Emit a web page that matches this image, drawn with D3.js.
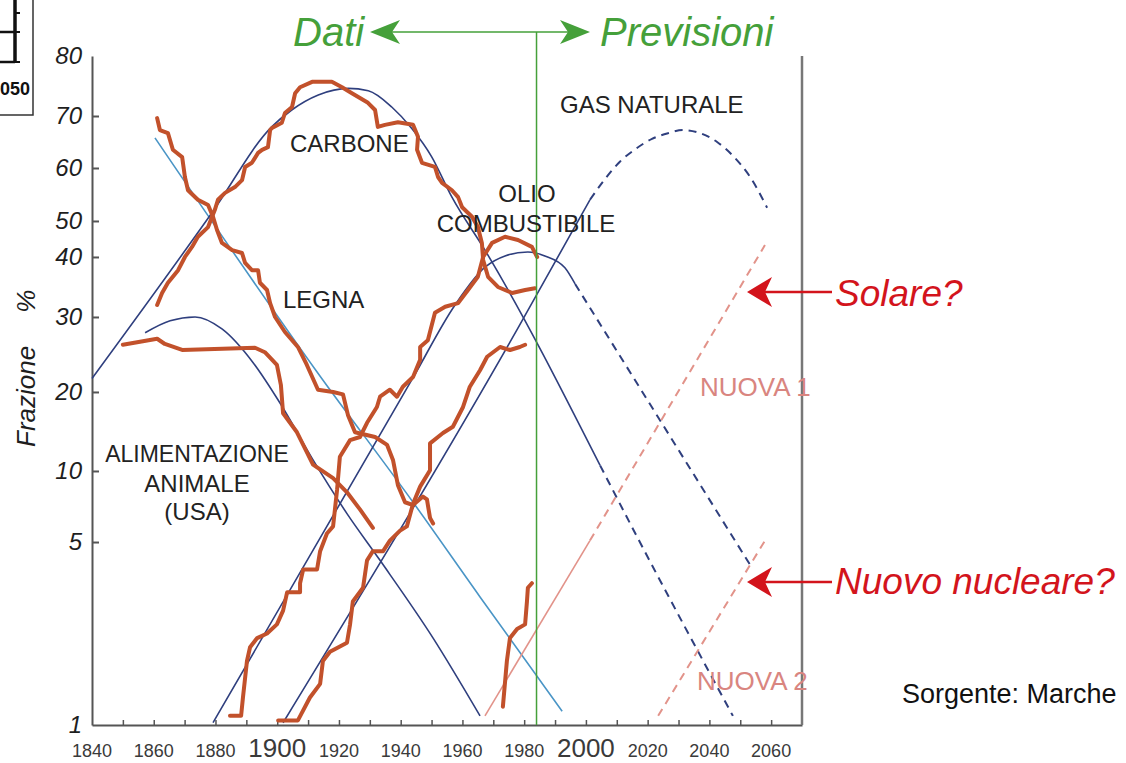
<!DOCTYPE html>
<html>
<head>
<meta charset="utf-8">
<script src="https://cdn.jsdelivr.net/npm/d3@7"></script>
<style>
  html, body { margin: 0; padding: 0; background: #ffffff; }
  svg { display: block; }
  text { font-family: "Liberation Sans", Arial, Helvetica, sans-serif; }
</style>
</head>
<body>
<svg id="chart" width="1126" height="763"></svg>
<script>
// ---------------------------------------------------------------
// Axis values
// ---------------------------------------------------------------
const yTickValues = [1, 5, 10, 20, 30, 40, 50, 60, 70, 80];
const xTickYears = [1850, 1860, 1870, 1880, 1890, 1900, 1910, 1920, 1930, 1940, 1950,
                    1960, 1970, 1980, 1990, 2000, 2010, 2020, 2030, 2040, 2050, 2060];
const xLabelYears = [1840, 1860, 1880, 1900, 1920, 1940, 1960, 1980, 2000, 2020, 2040, 2060];
const xMajorLabelYears = [1900, 2000];
const presentYear = 1984;

// ---------------------------------------------------------------
// Logistic substitution fits [year, share %]
// ---------------------------------------------------------------
const fitAnimalFeed = [[1857.2, 27.9], [1865.3, 29.5], [1873.4, 30.0], [1882.1, 28.4], [1892.2, 23.9],
                       [1900.9, 18.6], [1911.6, 11.4], [1922.6, 7.0], [1933.3, 4.6], [1950.5, 2.9], [1965.7, 1.2]];
const fitWood = [[1860.4, 65.8], [1913.2, 22.5], [1944.0, 7.8], [1965.7, 3.8], [1992.3, 1.3]];
const fitCoal = [[1840, 21.8], [1878.8, 51.5], [1898.2, 67.9], [1904.7, 71.0], [1913.3, 73.5], [1923.0, 74.6],
                 [1929.5, 74.2], [1937.1, 71.5], [1943.6, 67.6], [1950.0, 62.2], [1956.6, 54.5], [1967.3, 41.9],
                 [2004.6, 10.7]];
const fitCoalForecast = [[2004.6, 10.7], [2016.5, 5.4], [2047.6, 1.2]];
const fitOil = [[1879.2, 1.05], [1944.0, 21.9], [1957.6, 32.0], [1967.3, 38.3], [1973.8, 40.3], [1981.2, 41.4],
                [1986.7, 40.3], [1993.2, 38.2], [1996.5, 35.5]];
const fitOilForecast = [[1996.5, 35.5], [2053.2, 4.5]];
const fitGas = [[1901.9, 1.05], [1977.7, 28.3], [2001.3, 54.0]];
const fitGasForecast = [[2001.3, 54.0], [2005.9, 57.7], [2011.0, 61.2], [2016.2, 63.7], [2021.4, 65.6],
                        [2026.6, 66.7], [2031.4, 67.3], [2037.0, 66.7], [2042.5, 65.0], [2048.0, 62.1],
                        [2053.2, 58.3], [2058.7, 52.5]];
const fitNew1 = [[1967.3, 1.2], [2001.3, 5.1]];
const fitNew1Forecast = [[2001.3, 5.1], [2058.0, 43.3]];
const fitNew2Forecast = [[2023.4, 1.2], [2058.7, 5.35]];

// ---------------------------------------------------------------
// Historical market shares [year, share %]
// ---------------------------------------------------------------
const dataAnimalFeed = [[1850.0, 26.3], [1861.1, 27.1], [1863.6, 26.4], [1869.2, 25.6], [1892.8, 25.9],
                        [1896.0, 25.3], [1899.9, 23.6], [1901.2, 20.9], [1901.9, 17.3], [1906.4, 14.9],
                        [1911.6, 10.8], [1918.1, 9.5], [1922.6, 8.5], [1926.8, 7.3], [1931.0, 6.0]];
const dataWood = [[1861.1, 69.6], [1862.0, 67.3], [1864.6, 66.7], [1866.2, 63.5], [1869.2, 62.1], [1870.1, 58.3],
                  [1871.1, 55.8], [1874.3, 54.0], [1877.6, 53.0], [1879.2, 50.8], [1880.5, 47.5], [1882.1, 43.9],
                  [1885.4, 41.9], [1888.6, 41.1], [1889.6, 39.0], [1891.8, 37.8], [1893.8, 37.8], [1894.4, 35.7],
                  [1896.7, 34.5], [1897.7, 32.3], [1899.3, 30.0], [1902.5, 28.0], [1906.7, 26.0], [1909.6, 23.6],
                  [1913.2, 20.3], [1918.1, 20.0], [1921.3, 19.7], [1922.9, 17.1], [1925.2, 14.9], [1931.7, 14.3],
                  [1935.6, 13.3], [1937.5, 11.4], [1939.1, 9.0], [1941.4, 7.8], [1944.0, 7.6], [1947.2, 8.2],
                  [1948.5, 8.0], [1949.5, 6.7], [1950.5, 6.3]];
const dataCoal = [[1861.1, 32.0], [1862.7, 34.0], [1864.6, 35.7], [1867.9, 37.8], [1870.1, 40.0], [1872.4, 42.8],
                  [1874.3, 45.6], [1877.6, 48.3], [1879.8, 52.1], [1880.8, 54.0], [1883.1, 55.3], [1886.3, 56.4],
                  [1888.6, 57.7], [1889.6, 60.2], [1891.8, 61.0], [1893.8, 62.9], [1895.1, 63.5], [1897.0, 64.0],
                  [1897.7, 67.3], [1898.3, 67.7], [1901.5, 68.7], [1902.5, 70.5], [1904.8, 71.5], [1905.8, 73.8],
                  [1907.4, 74.8], [1911.3, 75.7], [1917.7, 75.7], [1921.0, 74.8], [1924.2, 73.8], [1929.4, 72.2],
                  [1931.7, 71.0], [1932.6, 67.9], [1934.9, 68.3], [1939.1, 68.8], [1944.0, 68.3], [1945.6, 66.0],
                  [1945.3, 63.5], [1946.9, 61.0], [1951.1, 60.2], [1952.1, 58.3], [1953.4, 57.2], [1956.6, 55.8],
                  [1958.6, 54.5], [1959.9, 52.6], [1963.1, 50.8], [1965.0, 48.3], [1966.3, 43.9], [1966.7, 39.5],
                  [1968.3, 36.7], [1971.5, 35.0], [1976.1, 34.0], [1980.3, 34.5], [1983.5, 34.8]];
const dataOil = [[1884.7, 1.2], [1888.3, 1.2], [1888.9, 1.6], [1890.2, 2.4], [1891.2, 2.7], [1893.5, 2.9],
                 [1896.7, 3.0], [1899.9, 3.2], [1901.9, 3.5], [1903.2, 3.9], [1907.4, 3.9], [1907.4, 4.1],
                 [1908.4, 4.4], [1912.9, 4.4], [1913.9, 4.8], [1916.1, 5.6], [1918.1, 6.1], [1919.4, 8.7],
                 [1920.3, 11.8], [1923.6, 13.9], [1926.8, 14.3], [1929.1, 16.1], [1932.3, 18.1], [1933.3, 19.4],
                 [1936.5, 20.3], [1938.8, 19.4], [1940.7, 20.7], [1944.0, 22.0], [1946.3, 24.3], [1946.3, 26.0],
                 [1948.8, 26.9], [1951.1, 30.7], [1954.4, 31.7], [1958.6, 32.3], [1961.8, 34.5], [1965.0, 36.7],
                 [1966.7, 40.0], [1969.6, 43.9], [1973.8, 45.6], [1978.0, 44.7], [1982.5, 42.8], [1984.2, 40.0]];
const dataGas = [[1900.3, 1.1], [1906.7, 1.1], [1910.6, 1.6], [1913.9, 1.9], [1914.8, 2.4], [1917.1, 2.6],
                 [1922.6, 2.8], [1923.6, 3.2], [1924.5, 3.7], [1927.8, 4.0], [1929.1, 4.6], [1931.0, 4.8],
                 [1934.3, 4.8], [1936.5, 5.1], [1939.8, 5.8], [1942.0, 6.1], [1944.0, 7.7], [1946.3, 8.9],
                 [1949.5, 10.1], [1949.5, 13.5], [1953.7, 14.8], [1956.9, 15.6], [1960.2, 18.1], [1962.4, 20.7],
                 [1965.7, 22.9], [1968.0, 24.7], [1972.2, 26.0], [1975.4, 25.6], [1978.6, 26.0], [1980.3, 26.3]];
const dataNuclear = [[1973.1, 1.4], [1974.4, 2.4], [1975.4, 2.9], [1977.7, 3.1], [1980.3, 3.2], [1980.9, 3.7],
                     [1981.2, 4.0], [1982.5, 4.1]];

// ---------------------------------------------------------------
// Layout and styles
// ---------------------------------------------------------------
const plot = { left: 92, right: 802, top: 56, bottom: 725 };
// probability-paper spacing of the labelled percentages (fraction of plot height from the bottom)
const yStops = [0, 0.2735, 0.3797, 0.4978, 0.6099, 0.6996, 0.7534, 0.8326, 0.9103, 1];

const NAVY = "#2f3f7e";
const LIGHT_BLUE = "#4a95c6";
const DATA_RED = "#c2512b";
const PINK = "#e2938a";
const GREEN = "#45a03a";
const NOTE_RED = "#d3141c";
const AXIS = "#555555";

const svg = d3.select("#chart");

const x = d3.scaleLinear().domain([1840, 2070]).range([plot.left, plot.right]);
const y = d3.scaleLinear()
  .domain(yTickValues)
  .range(yStops.map(f => plot.bottom - f * (plot.bottom - plot.top)));

const straight = d3.line().x(d => x(d[0])).y(d => y(d[1]));
const smooth = d3.line().x(d => x(d[0])).y(d => y(d[1])).curve(d3.curveMonotoneX);

// ---------------------------------------------------------------
// Fragment of a neighbouring figure in the top-left corner
// ---------------------------------------------------------------
const frag = svg.append("g").attr("class", "fragment");
frag.append("path").attr("d", "M33,0V115H0").attr("fill", "none")
  .attr("stroke", "#333").attr("stroke-width", 1.5);
frag.append("line").attr("x1", 15).attr("y1", 0).attr("x2", 15).attr("y2", 63)
  .attr("stroke", "#111").attr("stroke-width", 3.5);
[32, 62].forEach(yy => {
  frag.append("line").attr("x1", 0).attr("y1", yy).attr("x2", 15).attr("y2", yy)
    .attr("stroke", "#111").attr("stroke-width", 2.5);
});
[13, 32, 62].forEach(yy => {
  frag.append("line").attr("x1", 15).attr("y1", yy).attr("x2", 20).attr("y2", yy)
    .attr("stroke", "#111").attr("stroke-width", 2);
});
frag.append("text").attr("x", 0).attr("y", 95).text("050")
  .attr("font-size", 19).attr("font-weight", "bold").attr("fill", "#111")
  .attr("textLength", 30).attr("lengthAdjust", "spacingAndGlyphs");

// ---------------------------------------------------------------
// Axes
// ---------------------------------------------------------------
const yAxis = d3.axisLeft(y)
  .tickValues(yTickValues)
  .tickSizeInner(-7)
  .tickSizeOuter(0)
  .tickPadding(10)
  .tickFormat(d3.format("d"));

const gy = svg.append("g").attr("transform", `translate(${plot.left},0)`).call(yAxis);
gy.select(".domain").attr("stroke", AXIS).attr("stroke-width", 2);
gy.selectAll(".tick line").attr("stroke", AXIS).attr("stroke-width", 2)
  .filter(d => d === 80 || d === 1).remove();
gy.selectAll(".tick text")
  .attr("font-family", "'Liberation Sans', Arial, sans-serif")
  .attr("font-size", 24).attr("font-style", "italic").attr("fill", "#1e1e1e");

const xAxis = d3.axisBottom(x)
  .tickValues(xTickYears)
  .tickSizeInner(-5)
  .tickSizeOuter(0)
  .tickFormat("");
const gx = svg.append("g").attr("transform", `translate(0,${plot.bottom})`).call(xAxis);
gx.select(".domain").attr("stroke", AXIS).attr("stroke-width", 2);
gx.selectAll(".tick line").attr("stroke", AXIS).attr("stroke-width", 1.5);

svg.append("line")
  .attr("x1", plot.right).attr("x2", plot.right)
  .attr("y1", plot.top).attr("y2", plot.bottom)
  .attr("stroke", "#777").attr("stroke-width", 2.5);

svg.append("g").selectAll("text")
  .data(xLabelYears)
  .join("text")
  .attr("x", d => x(d))
  .attr("y", d => xMajorLabelYears.includes(d) ? 757 : 757)
  .attr("text-anchor", "middle")
  .attr("font-size", d => xMajorLabelYears.includes(d) ? 26 : 18)
  .attr("fill", "#3a3a3a")
  .text(d => d);

svg.append("text")
  .attr("transform", "translate(35,447) rotate(-90)")
  .attr("font-size", 26).attr("font-style", "italic").attr("fill", "#1e1e1e")
  .text("Frazione")
  .append("tspan").attr("dx", 33).text("%");

// ---------------------------------------------------------------
// Fitted curves (solid) and forecasts (dashed)
// ---------------------------------------------------------------
const fits = [
  { data: fitAnimalFeed, color: NAVY, width: 1.6 },
  { data: fitWood, color: LIGHT_BLUE, width: 1.6 },
  { data: fitCoal, color: NAVY, width: 1.6 },
  { data: fitOil, color: NAVY, width: 1.6 },
  { data: fitGas, color: NAVY, width: 1.6 },
  { data: fitNew1, color: PINK, width: 1.6 }
];
svg.append("g").attr("fill", "none").selectAll("path")
  .data(fits).join("path")
  .attr("d", d => smooth(d.data))
  .attr("stroke", d => d.color)
  .attr("stroke-width", d => d.width);

const forecasts = [
  { data: fitCoalForecast, color: NAVY, width: 2 },
  { data: fitOilForecast, color: NAVY, width: 2 },
  { data: fitGasForecast, color: NAVY, width: 2 },
  { data: fitNew1Forecast, color: PINK, width: 2 },
  { data: fitNew2Forecast, color: PINK, width: 2 }
];
svg.append("g").attr("fill", "none").selectAll("path")
  .data(forecasts).join("path")
  .attr("d", d => smooth(d.data))
  .attr("stroke", d => d.color)
  .attr("stroke-width", d => d.width)
  .attr("stroke-dasharray", "8,6");

// ---------------------------------------------------------------
// Historical data
// ---------------------------------------------------------------
const history = [dataAnimalFeed, dataWood, dataCoal, dataOil, dataGas, dataNuclear];
svg.append("g").attr("fill", "none").selectAll("path")
  .data(history).join("path")
  .attr("d", d => straight(d))
  .attr("stroke", DATA_RED)
  .attr("stroke-width", 4)
  .attr("stroke-linejoin", "round")
  .attr("stroke-linecap", "round");

// ---------------------------------------------------------------
// Data / forecast divider
// ---------------------------------------------------------------
const xPresent = x(presentYear);
svg.append("line")
  .attr("x1", xPresent).attr("x2", xPresent)
  .attr("y1", 32).attr("y2", plot.bottom)
  .attr("stroke", GREEN).attr("stroke-width", 1.5);

function arrowHead(g, tipX, tipY, dir, len, half, notch, color) {
  // dir = +1: arrow points left (body to the right); -1: points right
  const pts = [
    [tipX, tipY],
    [tipX + dir * len, tipY - half],
    [tipX + dir * (len - notch), tipY],
    [tipX + dir * len, tipY + half]
  ];
  g.append("polygon").attr("points", pts.map(p => p.join(",")).join(" ")).attr("fill", color);
}

const header = svg.append("g");
header.append("line").attr("x1", 375).attr("x2", 585).attr("y1", 32).attr("y2", 32)
  .attr("stroke", GREEN).attr("stroke-width", 1.5);
arrowHead(header, 370, 32, 1, 30, 12, 8, GREEN);
arrowHead(header, 590, 32, -1, 30, 12, 8, GREEN);
header.append("text").attr("x", 293).attr("y", 46).attr("font-size", 40)
  .attr("font-style", "italic").attr("fill", GREEN).text("Dati");
header.append("text").attr("x", 600).attr("y", 46).attr("font-size", 40)
  .attr("font-style", "italic").attr("fill", GREEN).text("Previsioni");

// ---------------------------------------------------------------
// Curve labels
// ---------------------------------------------------------------
const labels = svg.append("g").attr("font-size", 24).attr("fill", "#222");
labels.append("text").attr("x", 290).attr("y", 152).text("CARBONE");
labels.append("text").attr("x", 283).attr("y", 308).text("LEGNA");
labels.append("text").attr("x", 560).attr("y", 113).text("GAS NATURALE");
labels.append("text").attr("x", 527).attr("y", 202).attr("text-anchor", "middle").text("OLIO");
labels.append("text").attr("x", 526).attr("y", 232).attr("text-anchor", "middle").text("COMBUSTIBILE");
labels.append("text").attr("x", 197).attr("y", 462).attr("text-anchor", "middle")
  .attr("font-size", 23).text("ALIMENTAZIONE");
labels.append("text").attr("x", 197).attr("y", 492).attr("text-anchor", "middle").text("ANIMALE");
labels.append("text").attr("x", 197).attr("y", 520).attr("text-anchor", "middle").text("(USA)");

const newLabels = svg.append("g").attr("font-size", 26).attr("fill", "#d98580");
newLabels.append("text").attr("x", 700).attr("y", 396).text("NUOVA 1");
newLabels.append("text").attr("x", 697).attr("y", 690).text("NUOVA 2");

// ---------------------------------------------------------------
// Annotations
// ---------------------------------------------------------------
const notes = svg.append("g");
[[292, "Solare?", 306], [582, "Nuovo nucleare?", 594]].forEach(([ay, txt, by]) => {
  notes.append("line").attr("x1", 765).attr("x2", 832).attr("y1", ay).attr("y2", ay)
    .attr("stroke", NOTE_RED).attr("stroke-width", 2.5);
  arrowHead(notes, 747, ay, 1, 25, 15, 7, NOTE_RED);
  notes.append("text").attr("x", 835).attr("y", by).attr("font-size", 37)
    .attr("font-style", "italic").attr("fill", NOTE_RED).text(txt);
});

svg.append("text").attr("x", 902).attr("y", 703).attr("font-size", 27)
  .attr("fill", "#111").text("Sorgente: Marche");
</script>
</body>
</html>
